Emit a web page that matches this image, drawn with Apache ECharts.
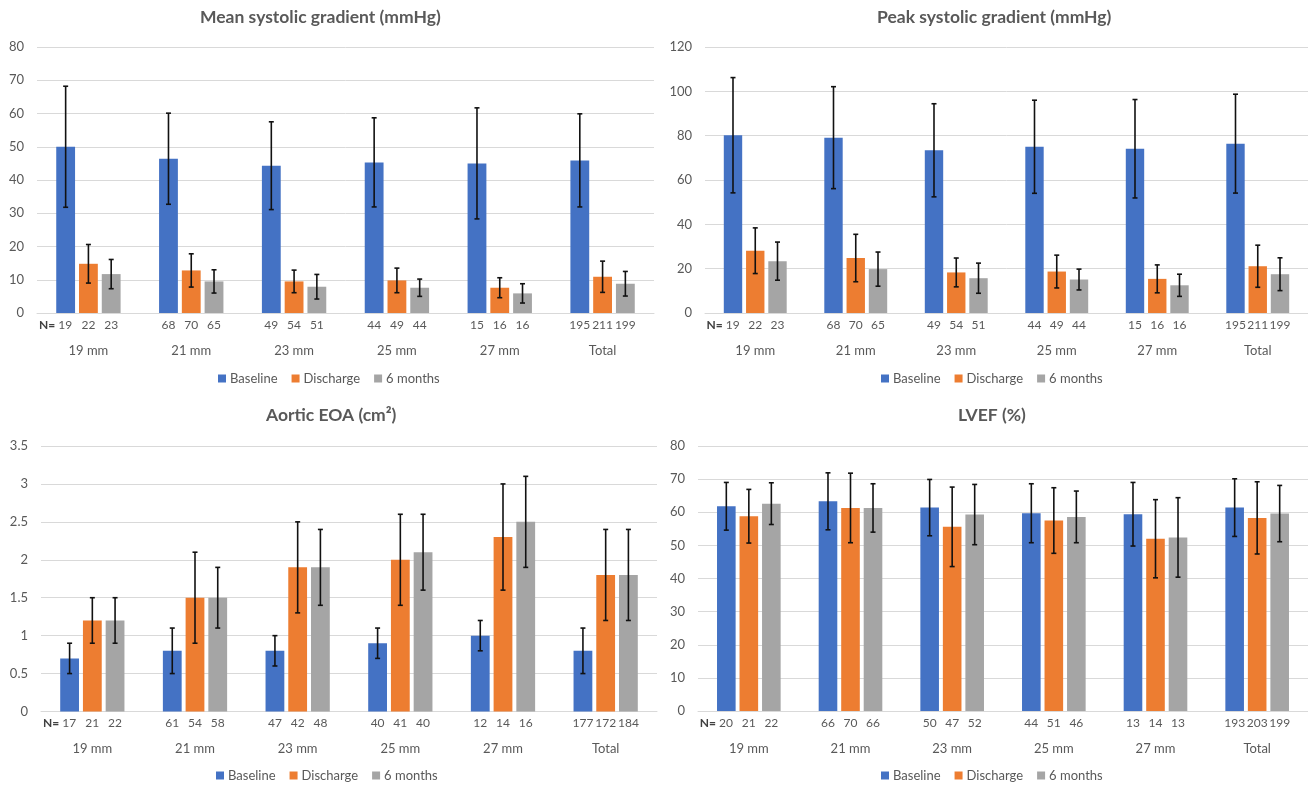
<!DOCTYPE html>
<html>
<head>
<meta charset="utf-8">
<script src="https://cdn.jsdelivr.net/npm/echarts@6/dist/echarts.min.js"></script>
<style>
  html, body { margin: 0; padding: 0; background: #ffffff; }
  #chart { width: 1308px; height: 785px; }
</style>
</head>
<body>
<div id="chart"></div>
<script>
// Valve size groups shared by all four panels
const categories = ['19 mm', '21 mm', '23 mm', '25 mm', '27 mm', 'Total'];
const seriesNames = ['Baseline', 'Discharge', '6 months'];

// Mean systolic gradient (mmHg): mean and SD per group
const meanBaseline = [50, 46.4, 44.3, 45.3, 45, 45.9];
const meanBaselineSd = [18.2, 13.7, 13.2, 13.4, 16.7, 14];
const meanDischarge = [14.8, 12.8, 9.5, 9.8, 7.6, 10.9];
const meanDischargeSd = [5.8, 5, 3.4, 3.7, 3, 4.7];
const meanSixMonths = [11.7, 9.5, 7.9, 7.6, 5.9, 8.8];
const meanSixMonthsSd = [4.4, 3.5, 3.7, 2.6, 2.9, 3.7];
const meanN = [[19, 68, 49, 44, 15, 195], [22, 70, 54, 49, 16, 211], [23, 65, 51, 44, 16, 199]];

// Peak systolic gradient (mmHg)
const peakBaseline = [80.2, 79.1, 73.4, 75, 74.1, 76.4];
const peakBaselineSd = [26, 23, 21, 21, 22.2, 22.3];
const peakDischarge = [28.1, 24.8, 18.3, 18.7, 15.4, 21.1];
const peakDischargeSd = [10.3, 10.7, 6.5, 7.4, 6.3, 9.5];
const peakSixMonths = [23.4, 19.8, 15.7, 15.1, 12.5, 17.5];
const peakSixMonthsSd = [8.6, 7.7, 6.8, 4.7, 5, 7.4];
const peakN = [[19, 68, 49, 44, 15, 195], [22, 70, 54, 49, 16, 211], [23, 65, 51, 44, 16, 199]];

// Aortic effective orifice area (cm²)
const eoaBaseline = [0.7, 0.8, 0.8, 0.9, 1.0, 0.8];
const eoaBaselineSd = [0.2, 0.3, 0.2, 0.2, 0.2, 0.3];
const eoaDischarge = [1.2, 1.5, 1.9, 2.0, 2.3, 1.8];
const eoaDischargeSd = [0.3, 0.6, 0.6, 0.6, 0.7, 0.6];
const eoaSixMonths = [1.2, 1.5, 1.9, 2.1, 2.5, 1.8];
const eoaSixMonthsSd = [0.3, 0.4, 0.5, 0.5, 0.6, 0.6];
const eoaN = [[17, 61, 47, 40, 12, 177], [21, 54, 42, 41, 14, 172], [22, 58, 48, 40, 16, 184]];

// Left ventricular ejection fraction (%)
const lvefBaseline = [61.8, 63.3, 61.4, 59.7, 59.4, 61.4];
const lvefBaselineSd = [7.2, 8.6, 8.5, 8.9, 9.6, 8.7];
const lvefDischarge = [58.8, 61.3, 55.6, 57.5, 52, 58.3];
const lvefDischargeSd = [8.1, 10.5, 12, 9.9, 11.8, 10.9];
const lvefSixMonths = [62.6, 61.3, 59.3, 58.6, 52.4, 59.6];
const lvefSixMonthsSd = [6.3, 7.3, 9.1, 7.8, 12, 8.5];
const lvefN = [[20, 66, 50, 44, 13, 193], [21, 70, 47, 51, 14, 203], [22, 66, 52, 46, 13, 199]];

// Y-axis scales
const yMax = [80, 120, 3.5, 80];
const yStep = [10, 20, 0.5, 10];

const FONT = 'Lato, "Liberation Sans", sans-serif';
const COLORS = ['#4472C4', '#ED7D31', '#A5A5A5'];
const TEXT = '#595959';
const GRID_LINE = '#D9D9D9';
const BAR_W = 0.183;   // bar width as a fraction of the category band
const BAR_GAP = 0.21;  // gap between bars as a fraction of bar width

const panels = [
  { title: 'Mean systolic gradient (mmHg)', vals: [meanBaseline, meanDischarge, meanSixMonths],
    sds: [meanBaselineSd, meanDischargeSd, meanSixMonthsSd], n: meanN,
    grid: { left: 37, top: 47, width: 617, height: 266 }, titleX: 320, titleY: 8, legendX: 218, legendY: 372 },
  { title: 'Peak systolic gradient (mmHg)', vals: [peakBaseline, peakDischarge, peakSixMonths],
    sds: [peakBaselineSd, peakDischargeSd, peakSixMonthsSd], n: peakN,
    grid: { left: 705, top: 47, width: 612, height: 266 }, titleX: 994, titleY: 8, legendX: 881, legendY: 372 },
  { title: 'Aortic EOA (cm²)', vals: [eoaBaseline, eoaDischarge, eoaSixMonths],
    sds: [eoaBaselineSd, eoaDischargeSd, eoaSixMonthsSd], n: eoaN,
    grid: { left: 41, top: 446, width: 616, height: 265.5 }, titleX: 331, titleY: 406, legendX: 216, legendY: 769 },
  { title: 'LVEF (%)', vals: [lvefBaseline, lvefDischarge, lvefSixMonths],
    sds: [lvefBaselineSd, lvefDischargeSd, lvefSixMonthsSd], n: lvefN,
    grid: { left: 698, top: 446, width: 618, height: 265 }, titleX: 992, titleY: 406, legendX: 881, legendY: 769 }
];

// Width of a string in a given CSS font, used to centre the titles
const measureCtx = document.createElement('canvas').getContext('2d');
function textWidth(text, font) {
  measureCtx.font = font;
  return measureCtx.measureText(text).width;
}

function barSeries(k, s, p) {
  return {
    type: 'bar',
    name: seriesNames[s],
    xAxisIndex: k,
    yAxisIndex: k,
    barWidth: (BAR_W * 100) + '%',
    barGap: (BAR_GAP * 100) + '%',
    itemStyle: { color: COLORS[s] },
    label: {
      show: true,
      position: 'bottom',
      distance: 6,
      color: TEXT,
      fontFamily: FONT,
      fontSize: 12,
      formatter: (prm) => (s === 0 && prm.dataIndex === 0 ? '{n|N=} ' : '') + p.n[s][prm.dataIndex],
      rich: { n: { fontFamily: FONT, fontSize: 12, fontWeight: 'bold', color: '#404040' } }
    },
    labelLayout: (prm) => (s === 0 && prm.dataIndex === 0 ? { dx: -10 } : {}),
    data: p.vals[s]
  };
}

function errorSeries(k, s, p) {
  const vals = p.vals[s], sds = p.sds[s];
  return {
    type: 'custom',
    name: seriesNames[s],
    xAxisIndex: k,
    yAxisIndex: k,
    z: 10,
    silent: true,
    data: vals.map((v, i) => [i, v - sds[i], v + sds[i]]),
    encode: { x: 0, y: [1, 2] },
    renderItem: (params, api) => {
      const i = api.value(0);
      const lo = api.coord([i, api.value(1)]);
      const hi = api.coord([i, api.value(2)]);
      const band = api.size([1, 0])[0];
      const bw = band * BAR_W;
      const x = lo[0] + (s - 1) * bw * (1 + BAR_GAP);
      const cap = 2.5;
      const style = { stroke: '#111111', lineWidth: 1.6 };
      return {
        type: 'group',
        children: [
          { type: 'line', shape: { x1: x, y1: hi[1], x2: x, y2: lo[1] }, style },
          { type: 'line', shape: { x1: x - cap, y1: hi[1], x2: x + cap, y2: hi[1] }, style },
          { type: 'line', shape: { x1: x - cap, y1: lo[1], x2: x + cap, y2: lo[1] }, style }
        ]
      };
    }
  };
}

const titleFont = 'bold 17.5px ' + FONT;
const option = {
  animation: false,
  backgroundColor: '#ffffff',
  textStyle: { fontFamily: FONT },
  title: panels.map((p) => ({
    text: p.title,
    left: Math.round(p.titleX - textWidth(p.title, titleFont) / 2),
    top: p.titleY,
    padding: 0,
    textStyle: { fontFamily: FONT, fontSize: 17.5, fontWeight: 'bold', color: TEXT }
  })),
  legend: panels.map((p) => ({
    data: seriesNames,
    left: p.legendX,
    top: p.legendY,
    padding: 0,
    icon: 'rect',
    itemWidth: 8,
    itemHeight: 8,
    itemGap: 14,
    textStyle: { fontFamily: FONT, fontSize: 13, color: TEXT, padding: [0, 0, 0, -1] }
  })),
  grid: panels.map((p) => Object.assign({ containLabel: false }, p.grid)),
  xAxis: panels.map((p, k) => ({
    type: 'category',
    gridIndex: k,
    data: categories,
    axisLine: { show: true, lineStyle: { color: GRID_LINE, width: 1 } },
    axisTick: { show: false },
    axisLabel: { color: TEXT, fontFamily: FONT, fontSize: 13, margin: 31 }
  })),
  yAxis: panels.map((p, k) => ({
    type: 'value',
    gridIndex: k,
    min: 0,
    max: yMax[k],
    interval: yStep[k],
    axisLine: { show: false },
    axisTick: { show: false },
    splitLine: { lineStyle: { color: GRID_LINE, width: 1 } },
    axisLabel: { color: TEXT, fontFamily: FONT, fontSize: 13, margin: 13 }
  })),
  series: []
};

panels.forEach((p, k) => {
  for (let s = 0; s < 3; s++) option.series.push(barSeries(k, s, p));
  for (let s = 0; s < 3; s++) option.series.push(errorSeries(k, s, p));
});

const chart = echarts.init(document.getElementById('chart'), null, { renderer: 'canvas' });
chart.setOption(option);
</script>
</body>
</html>
